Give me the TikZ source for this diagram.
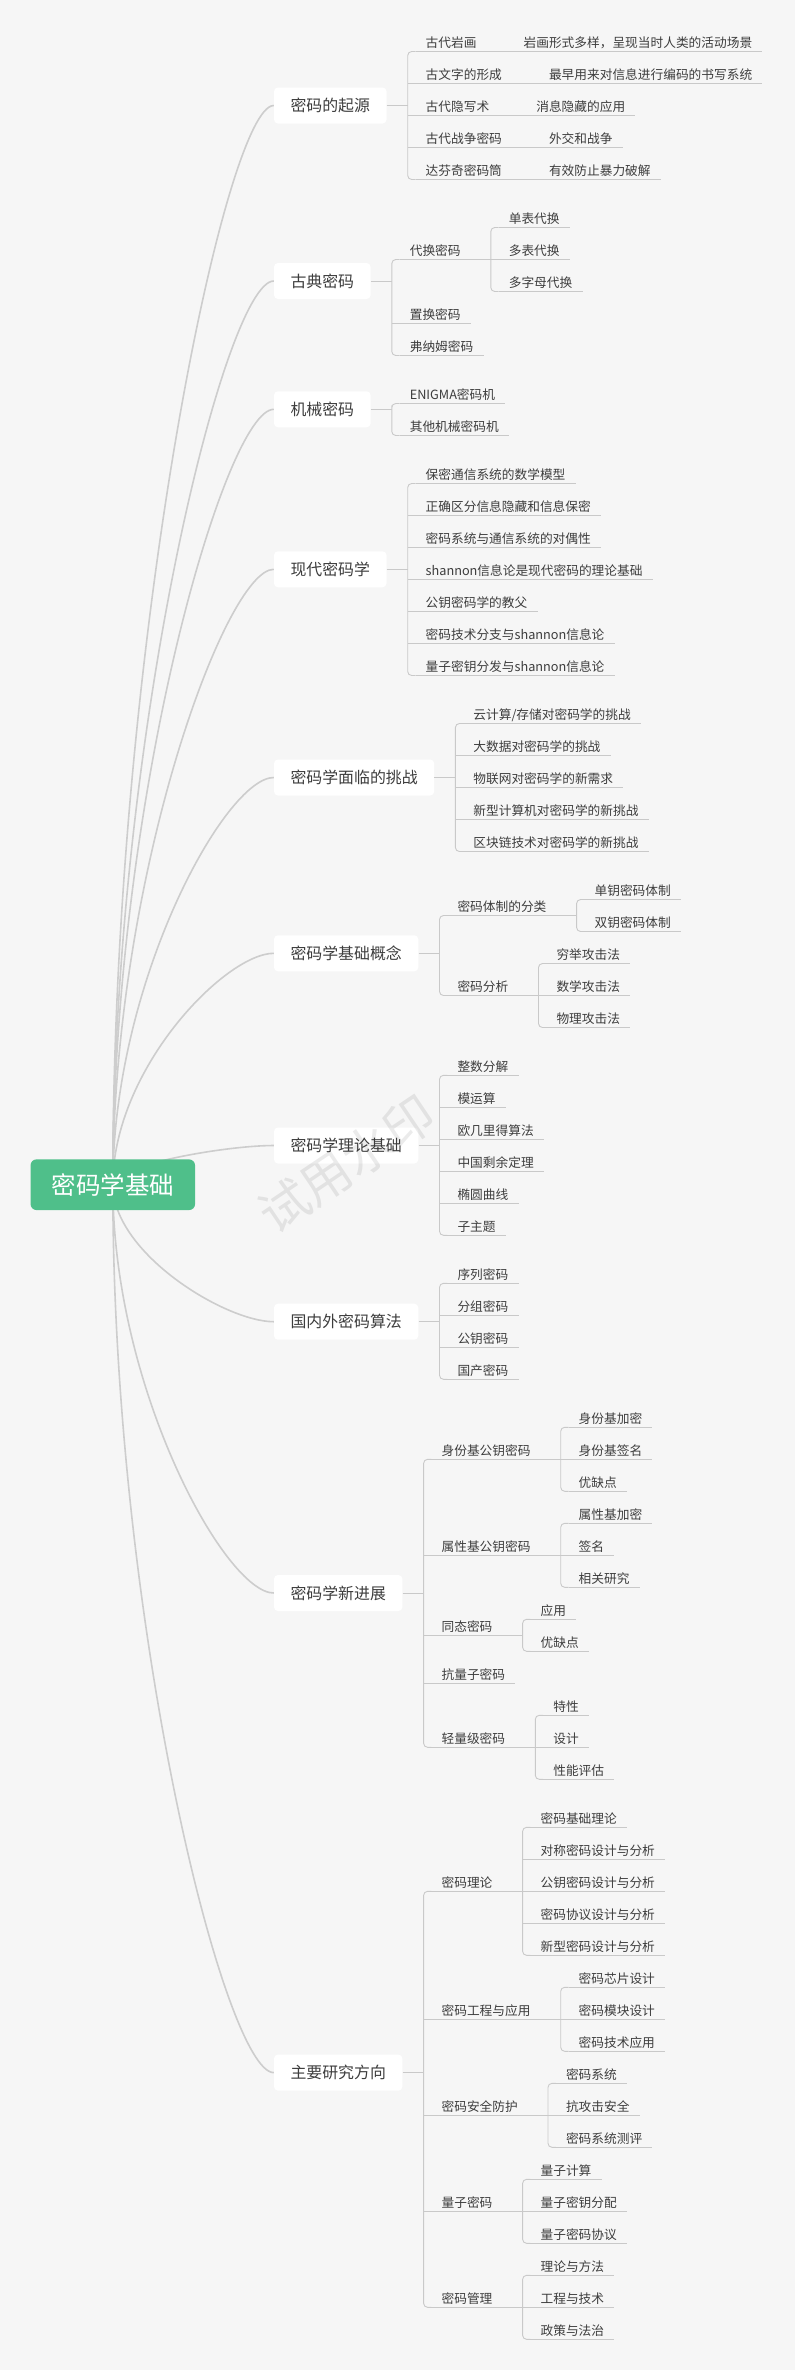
\documentclass[tikz,border=0pt]{standalone}
\usepackage{fontspec}
\setmainfont{Noto Sans CJK SC}
\usetikzlibrary{positioning,calc,backgrounds}
\definecolor{paper}{HTML}{F6F6F6}
\definecolor{ink}{HTML}{3D3D3D}
\definecolor{twiggray}{HTML}{C9C9C9}
\definecolor{trunkgray}{HTML}{CDCDCD}
\definecolor{rootgreen}{HTML}{4FBF8A}

\tikzset{
  root/.style={fill=rootgreen,text=white,rounded corners=6pt,inner xsep=21pt,minimum height=50.7pt,font=\fontsize{24.5}{28}\selectfont},
  topic/.style={fill=white,text=ink,rounded corners=4pt,inner xsep=16.5pt,minimum height=36pt,font=\fontsize{15.9}{18}\selectfont},
  twig/.style={draw=twiggray,line width=0.9pt},
  fork/.style={twig,rounded corners=4pt},
  trunk/.style={draw=trunkgray,line width=1.6pt},
  sub/.style={text=ink,inner xsep=10pt,inner ysep=0pt,text height=10pt,text depth=4pt,
    font=\fontsize{12.7}{15}\selectfont,
    append after command={(\tikzlastnode.south west) edge[twig] (\tikzlastnode.south east)}},
}

% children of one fork: #1 fork point, #2 name prefix, #3 list of y/label
\newcommand\kids[3]{%
  \foreach \y/\t [count=\i] in {#3}{
    \node[sub,anchor=south west,xshift=7.8pt] (#2\i) at (#1 |- 0,\y) {\t};
    \global\let\lastkid\i
  }
  \draw[fork] (#21.south west) -| (#1) |- (#2\lastkid.south west);
  \foreach \i in {1,...,\lastkid}{
    \ifnum\i>1 \ifnum\i<\lastkid\relax
      \draw[twig] (#1 |- #2\i.south) -- (#2\i.south west);
    \fi\fi
  }
}

\begin{document}
\begin{tikzpicture}[x=1pt,y=-1pt]
\useasboundingbox (0,0) rectangle (795,2370);

\node[root] (root) at (112.8,1184.7) {密码学基础};
\node[topic,anchor=west] (orig) at (273.8,105.5) {密码的起源};
\node[topic,anchor=west] (classic) at (273.8,281) {古典密码};
\node[topic,anchor=west] (mech) at (273.8,409.3) {机械密码};
\node[topic,anchor=west] (modern) at (273.8,569.3) {现代密码学};
\node[topic,anchor=west] (chal) at (273.8,777.5) {密码学面临的挑战};
\node[topic,anchor=west] (basic) at (273.8,953.3) {密码学基础概念};
\node[topic,anchor=west] (theory) at (273.8,1145.5) {密码学理论基础};
\node[topic,anchor=west] (algo) at (273.8,1321.7) {国内外密码算法};
\node[topic,anchor=west] (adv) at (273.8,1593) {密码学新进展};
\node[topic,anchor=west] (dir) at (273.8,2072.6) {主要研究方向};

\foreach \n in {orig,classic,mech,modern,chal,basic,theory,algo,adv,dir}{
  \coordinate (b\n) at ([xshift=21pt]\n.east);
  \draw[twig] (\n.east) -- (b\n);
}

% 密码的起源
\kids{borig}{orig}{51.5/古代岩画,83.5/古文字的形成,115.5/古代隐写术,147.5/古代战争密码,179.5/达芬奇密码筒}
\foreach \u [count=\i] in {岩画形式多样，呈现当时人类的活动场景,最早用来对信息进行编码的书写系统,消息隐藏的应用,外交和战争,有效防止暴力破解}{
  \node[sub,right=26.7pt of orig\i] (note\i) {\u};
  \draw[twig] (orig\i.south east) -- (note\i.south west);
}

% 古典密码
\kids{bclassic}{cls}{259.5/代换密码,323.5/置换密码,355.5/弗纳姆密码}
\coordinate (bsubst) at ([xshift=20pt]cls1.south east);
\draw[twig] (cls1.south east) -- (bsubst);
\kids{bsubst}{subst}{227.5/单表代换,259.5/多表代换,291.5/多字母代换}

\kids{bmech}{mec}{403.5/ENIGMA密码机,435.5/其他机械密码机}

\kids{bmodern}{mod}{483.5/保密通信系统的数学模型,515.5/正确区分信息隐藏和信息保密,547.5/密码系统与通信系统的对偶性,579.5/shannon信息论是现代密码的理论基础,611.5/公钥密码学的教父,643.5/密码技术分支与shannon信息论,675.5/量子密钥分发与shannon信息论}

\kids{bchal}{chl}{723.5/{云计算/存储对密码学的挑战},755.5/大数据对密码学的挑战,787.5/物联网对密码学的新需求,819.5/新型计算机对密码学的新挑战,851.5/区块链技术对密码学的新挑战}

% 密码学基础概念
\kids{bbasic}{bas}{915.5/密码体制的分类,995.5/密码分析}
\coordinate (bsys) at ([xshift=20pt]bas1.south east);
\coordinate (batk) at ([xshift=20pt]bas2.south east);
\draw[twig] (bas1.south east) -- (bsys);
\draw[twig] (bas2.south east) -- (batk);
\kids{bsys}{sys}{899.5/单钥密码体制,931.5/双钥密码体制}
\kids{batk}{atk}{963.5/穷举攻击法,995.5/数学攻击法,1027.5/物理攻击法}

\kids{btheory}{thy}{1075.3/整数分解,1107.3/模运算,1139.3/欧几里得算法,1171.3/中国剩余定理,1203.3/椭圆曲线,1235.3/子主题}

\kids{balgo}{alg}{1283.3/序列密码,1315.3/分组密码,1347.3/公钥密码,1379.3/国产密码}

% 密码学新进展
\kids{badv}{adv}{1459.3/身份基公钥密码,1555.3/属性基公钥密码,1635.3/同态密码,1683.3/抗量子密码,1747.3/轻量级密码}
\foreach \p/\q in {1/ibe,2/abe,3/he,5/lw}{
  \coordinate (b\q) at ([xshift=20pt]adv\p.south east);
  \draw[twig] (adv\p.south east) -- (b\q);
}
\kids{bibe}{ibe}{1427.3/身份基加密,1459.3/身份基签名,1491.3/优缺点}
\kids{babe}{abe}{1523.3/属性基加密,1555.3/签名,1587.3/相关研究}
\kids{bhe}{he}{1619.3/应用,1651.3/优缺点}
\kids{blw}{lw}{1715.3/特性,1747.3/设计,1779.3/性能评估}

% 主要研究方向
\kids{bdir}{dir}{1891.3/密码理论,2019.3/密码工程与应用,2115.3/密码安全防护,2211.3/量子密码,2307.3/密码管理}
\foreach \p/\q in {1/th,2/eng,3/sec,4/qc,5/mgt}{
  \coordinate (b\q) at ([xshift=20pt]dir\p.south east);
  \draw[twig] (dir\p.south east) -- (b\q);
}
\kids{bth}{th}{1827.3/密码基础理论,1859.3/对称密码设计与分析,1891.3/公钥密码设计与分析,1923.3/密码协议设计与分析,1955.3/新型密码设计与分析}
\kids{beng}{eng}{1987.3/密码芯片设计,2019.3/密码模块设计,2051.3/密码技术应用}
\kids{bsec}{sec}{2083.3/密码系统,2115.3/抗攻击安全,2147.3/密码系统测评}
\kids{bqc}{qc}{2179.3/量子计算,2211.3/量子密钥分配,2243.3/量子密码协议}
\kids{bmgt}{mgt}{2275.3/理论与方法,2307.3/工程与技术,2339.3/政策与法治}

\node[rotate=34,text=black,opacity=0.08,font=\fontsize{50}{50}\selectfont] (mark) at (346.5,1163.5) {试用水印};

\begin{pgfonlayer}{background}
  \fill[paper] (0,0) rectangle (795,2370);
  \foreach \n in {orig,classic,mech,modern,chal,basic,theory,algo,adv,dir}
    \draw[trunk] (root.center) .. controls ($(root.center)!.5!(root.center |- \n.west)$) and ($(root.center |- \n.west)!.7!(\n.west)$) .. (\n.west);
\end{pgfonlayer}
\end{tikzpicture}
\end{document}
